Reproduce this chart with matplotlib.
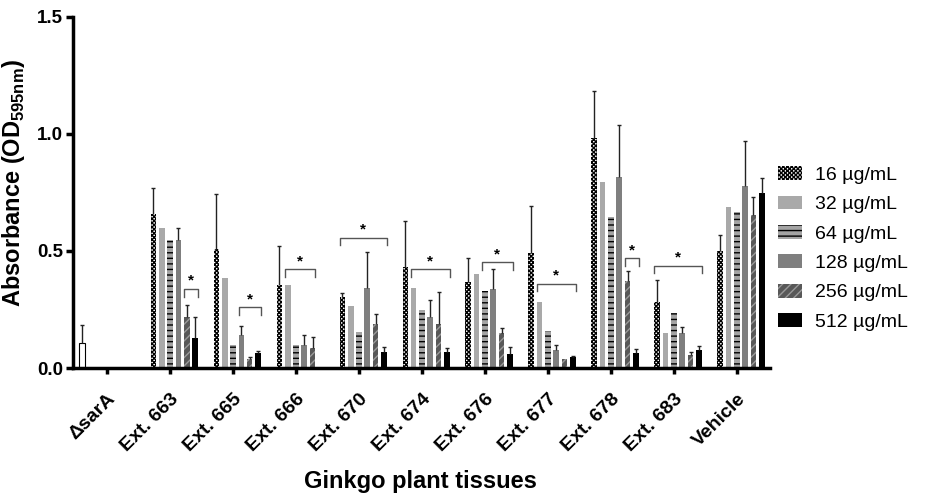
import numpy as np
import matplotlib
matplotlib.use('Agg')
import matplotlib.pyplot as plt
from matplotlib.patches import Patch

plt.rcParams['font.family'] = ['Liberation Sans', 'DejaVu Sans']
plt.rcParams['mathtext.fontset'] = 'custom'
plt.rcParams['mathtext.rm'] = 'Liberation Sans'
plt.rcParams['mathtext.bf'] = 'Liberation Sans:bold'
plt.rcParams['hatch.linewidth'] = 1.0

# data
groups = ['ΔsarA', 'Ext. 663', 'Ext. 665', 'Ext. 666', 'Ext. 670', 'Ext. 674',
          'Ext. 676', 'Ext. 677', 'Ext. 678', 'Ext. 683', 'Vehicle']
concLabels = ['16 µg/mL', '32 µg/mL', '64 µg/mL', '128 µg/mL', '256 µg/mL', '512 µg/mL']

sarAMean = 0.105
sarAErr = 0.08

# one row per concentration, columns = Ext. 663 ... Vehicle
means = [
    [0.66, 0.51, 0.355, 0.305, 0.432, 0.368, 0.49, 0.983, 0.28, 0.50],
    [0.60, 0.385, 0.355, 0.265, 0.34, 0.403, 0.283, 0.795, 0.151, 0.686],
    [0.545, 0.098, 0.097, 0.155, 0.246, 0.327, 0.16, 0.643, 0.234, 0.666],
    [0.545, 0.14, 0.10, 0.34, 0.22, 0.337, 0.075, 0.817, 0.149, 0.777],
    [0.22, 0.04, 0.087, 0.19, 0.187, 0.151, 0.039, 0.37, 0.055, 0.653],
    [0.13, 0.065, 0.0, 0.068, 0.068, 0.059, 0.047, 0.066, 0.077, 0.746],
]
errs = [
    [0.11, 0.235, 0.165, 0.014, 0.196, 0.102, 0.20, 0.20, 0.095, 0.069],
    [0, 0, 0, 0, 0, 0, 0, 0, 0, 0],
    [0, 0, 0, 0, 0, 0, 0, 0, 0, 0],
    [0.055, 0.04, 0.043, 0.157, 0.07, 0.087, 0.025, 0.223, 0.026, 0.191],
    [0.05, 0.006, 0.045, 0.042, 0.139, 0.022, 0.0, 0.044, 0.015, 0.079],
    [0.09, 0.008, 0.0, 0.021, 0.016, 0.03, 0.005, 0.015, 0.016, 0.066],
]

# significance brackets: group index (1 = Ext. 663), first bar, last bar, height
brackets = [
    (1, 4, 5, 0.338),
    (2, 3, 5, 0.259),
    (3, 1, 4, 0.423),
    (4, 0, 5, 0.557),
    (5, 1, 5, 0.423),
    (6, 2, 5, 0.453),
    (7, 1, 5, 0.36),
    (8, 4, 5, 0.469),
    (9, 0, 5, 0.437),
]

# styles
faceColors = ['white', '#a9a9a9', '#a4a4a4', '#7f7f7f', '#585858', 'black']
hatchColors = ['black', '#a9a9a9', 'black', '#7f7f7f', '#9a9a9a', 'black']
hatches = ['xxxxxxxx', None, '---', None, '////', None]
barWidth = 0.09
barPitch = 0.132
errColor = '#222222'

fig = plt.figure(figsize=(9.25, 4.96), dpi=100)
ax = fig.add_axes([0.079, 0.258, 0.753, 0.708])

xGroups = np.arange(1, len(groups))

# control bar
ax.bar(-0.40, sarAMean, width=barWidth, facecolor='white', edgecolor='black', linewidth=0.8)
ax.vlines(-0.40, sarAMean, sarAMean + sarAErr, color=errColor, linewidth=1)
ax.scatter([-0.40], [sarAMean + sarAErr], marker='_', s=12, color=errColor, linewidths=1)

for k in range(6):
    xs = xGroups + (k - 2) * barPitch
    ax.bar(xs, means[k], width=barWidth, facecolor=faceColors[k],
           edgecolor=hatchColors[k], hatch=hatches[k], linewidth=0)
    m = np.array(means[k])
    e = np.array(errs[k])
    sel = e > 0
    ax.vlines(xs[sel], m[sel], m[sel] + e[sel], color=errColor, linewidth=1)
    ax.scatter(xs[sel], m[sel] + e[sel], marker='_', s=12, color=errColor, linewidths=1)

for g, b0, b1, h in brackets:
    x0 = g + (b0 - 2) * barPitch - barWidth / 2
    x1 = g + (b1 - 2) * barPitch + barWidth / 2
    ax.plot([x0, x0, x1, x1], [h - 0.033, h, h, h - 0.033], color='#555555', linewidth=1)
    ax.text((x0 + x1) / 2, h + 0.004, '*', ha='center', va='bottom', fontsize=11,
            fontweight='bold')

ax.set_xlim(-0.54, 10.52)
ax.set_ylim(0, 1.5)
ax.set_yticks([0, 0.5, 1.0, 1.5])
ax.set_yticklabels(['0.0', '0.5', '1.0', '1.5'], fontsize=13.5, fontweight='bold')
ax.set_xticks(np.arange(len(groups)))
ax.set_xticklabels(groups, rotation=45, ha='right', va='top', rotation_mode='anchor',
                   fontsize=14, fontweight='bold')

for s in ['top', 'right']:
    ax.spines[s].set_visible(False)
for s in ['left', 'bottom']:
    ax.spines[s].set_linewidth(2.5)
ax.tick_params(axis='y', direction='out', length=5, width=2.5, pad=2)
ax.tick_params(axis='x', direction='out', length=4, width=2.5, pad=12)

ax.set_ylabel(r'Absorbance (OD$_{\mathbf{595nm}}$)', fontsize=17, fontweight='bold')
ax.yaxis.set_label_coords(-0.066, 0.526)
ax.set_xlabel('Ginkgo plant tissues', fontsize=17, fontweight='bold')
ax.xaxis.set_label_coords(0.498, -0.29)

handles = [Patch(facecolor=faceColors[k], edgecolor=hatchColors[k], hatch=hatches[k],
                 linewidth=0) for k in range(6)]
fig.legend(handles, concLabels, loc='upper left', bbox_to_anchor=(0.841, 0.665),
           frameon=False, fontsize=14, handlelength=1.24, handleheight=0.72,
           handletextpad=0.67, labelspacing=0.6, borderpad=0, borderaxespad=0)

plt.savefig('out.png', dpi=100)
